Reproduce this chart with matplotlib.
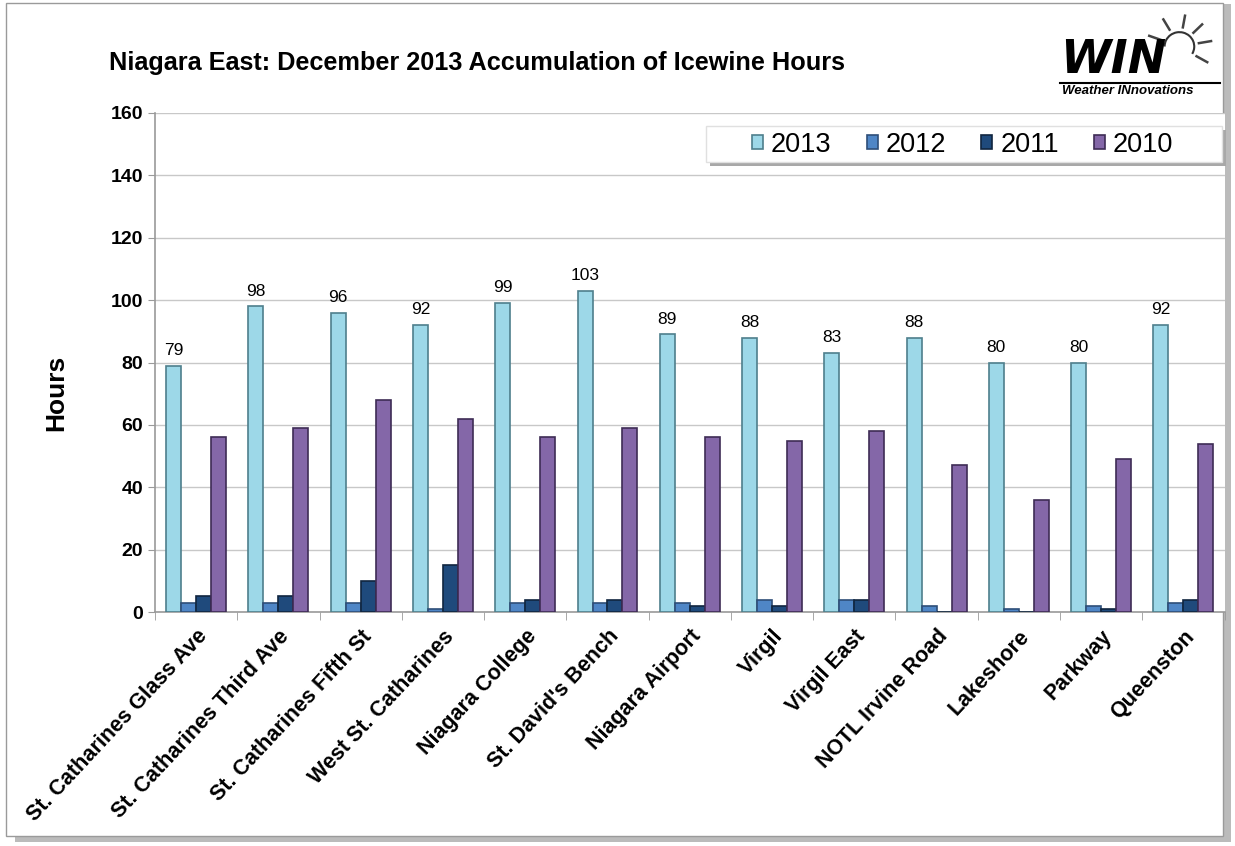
import matplotlib.pyplot as plt
import numpy as np
from matplotlib.patches import Rectangle, Arc

plt.rcParams['font.family'] = ['Liberation Sans', 'DejaVu Sans']

stations = ["St. Catharines Glass Ave", "St. Catharines Third Ave", "St. Catharines Fifth St",
            "West St. Catharines", "Niagara College", "St. David's Bench", "Niagara Airport",
            "Virgil", "Virgil East", "NOTL Irvine Road", "Lakeshore", "Parkway", "Queenston"]
years = ["2013", "2012", "2011", "2010"]
hours_2013 = [79, 98, 96, 92, 99, 103, 89, 88, 83, 88, 80, 80, 92]
hours_2012 = [3, 3, 3, 1, 3, 3, 3, 4, 4, 2, 1, 2, 3]
hours_2011 = [5, 5, 10, 15, 4, 4, 2, 2, 4, 0, 0, 1, 4]
hours_2010 = [56, 59, 68, 62, 56, 59, 56, 55, 58, 47, 36, 49, 54]

colors = ["#9DD8E8", "#4F86C6", "#1F4A7C", "#8467A8"]
edges = ["#4E7F8C", "#2E4E78", "#10253F", "#3E2C55"]

fig = plt.figure(figsize=(12.35, 8.46), dpi=100)

# outer frame with shadow
fig.patches.append(Rectangle((0.012, 0.005), 0.985, 0.99, transform=fig.transFigure,
                             facecolor="#BBBBBB", edgecolor="none", zorder=-2))
fig.patches.append(Rectangle((0.005, 0.012), 0.985, 0.985, transform=fig.transFigure,
                             facecolor="white", edgecolor="#9A9A9A", lw=1, zorder=-1))

ax = fig.add_axes([0.1255, 0.2765, 0.866, 0.59])
x = np.arange(len(stations))
w = 0.182
series = [hours_2013, hours_2012, hours_2011, hours_2010]
for i, vals in enumerate(series):
    ax.bar(x + (i - 1.5) * w, vals, width=w, color=colors[i], edgecolor=edges[i],
           linewidth=1.2, label=years[i], zorder=3)

for xi, v in zip(x, hours_2013):
    ax.text(xi - 1.5 * w, v + 2.5, str(v), ha="center", va="bottom", fontsize=12.5)

ax.set_xlim(-0.5, len(stations) - 0.5)
ax.set_ylim(0, 160)
ax.set_yticks(range(0, 161, 20))
ax.yaxis.grid(True, color="#C8C8C8", lw=1, zorder=0)
ax.set_axisbelow(True)
for s in ["top", "right"]:
    ax.spines[s].set_visible(False)
ax.spines["left"].set_color("#9A9A9A")
ax.spines["bottom"].set_color("#9A9A9A")
ax.spines["left"].set_linewidth(1.2)
ax.spines["bottom"].set_linewidth(1.2)

ax.set_xticks(x)
ax.set_xticklabels(stations, rotation=47, ha="right", rotation_mode="anchor",
                   fontsize=15.5, fontweight="bold")
ax.tick_params(axis="x", length=0, pad=10)
ax.set_xticks(np.arange(-0.5, len(stations), 1), minor=True)
ax.tick_params(axis="x", which="minor", length=6, color="#9A9A9A")
ax.tick_params(axis="y", labelsize=14, length=5, color="#9A9A9A")
for lab in ax.get_yticklabels():
    lab.set_fontweight("bold")
ax.set_ylabel("Hours", fontsize=19, fontweight="bold")
ax.yaxis.set_label_coords(-0.0814, 0.44)

# legend box with shadow, drawn in figure fractions
fig.patches.append(Rectangle((0.5750, 0.8040), 0.4178, 0.0426, transform=fig.transFigure,
                             facecolor="#A8A8A8", edgecolor="none", zorder=4))
fig.patches.append(Rectangle((0.5717, 0.8085), 0.4178, 0.0426, transform=fig.transFigure,
                             facecolor="white", edgecolor="#E0E0E0", lw=1, zorder=5))
handles, labels = ax.get_legend_handles_labels()
leg = fig.legend(handles, labels, loc="center", ncol=4, fontsize=19.5, frameon=False,
                 handlelength=0.4, handleheight=0.4, handletextpad=0.3,
                 columnspacing=1.3, bbox_to_anchor=(0.7795, 0.8286))
leg.set_zorder(6)

fig.text(0.088, 0.925, "Niagara East: December 2013 Accumulation of Icewine Hours",
         fontsize=18.2, fontweight="bold", va="center")

# logo
fig.text(0.858, 0.928, "WIN", fontsize=33, fontweight="bold", style="italic",
         va="center", family="DejaVu Sans")
fig.add_artist(plt.Line2D([0.858, 0.988], [0.902, 0.902], color="black", lw=1.5,
                          transform=fig.transFigure))
fig.text(0.860, 0.892, "Weather INnovations", fontsize=9.5, fontweight="bold",
         style="italic", va="center")
cx, cy = 0.955, 0.945
fig.add_artist(Arc((cx, cy), 0.024, 0.034, theta1=-40, theta2=180, color="#333333",
                   lw=1.5, transform=fig.transFigure))
for ang in [-30, 10, 45, 80, 120, 160]:
    a = np.deg2rad(ang)
    fig.add_artist(plt.Line2D([cx + 0.016 * np.cos(a), cx + 0.026 * np.cos(a)],
                              [cy + 0.023 * np.sin(a), cy + 0.037 * np.sin(a)],
                              color="#444444", lw=1.8, transform=fig.transFigure))

fig.savefig("out.png", dpi=100)
